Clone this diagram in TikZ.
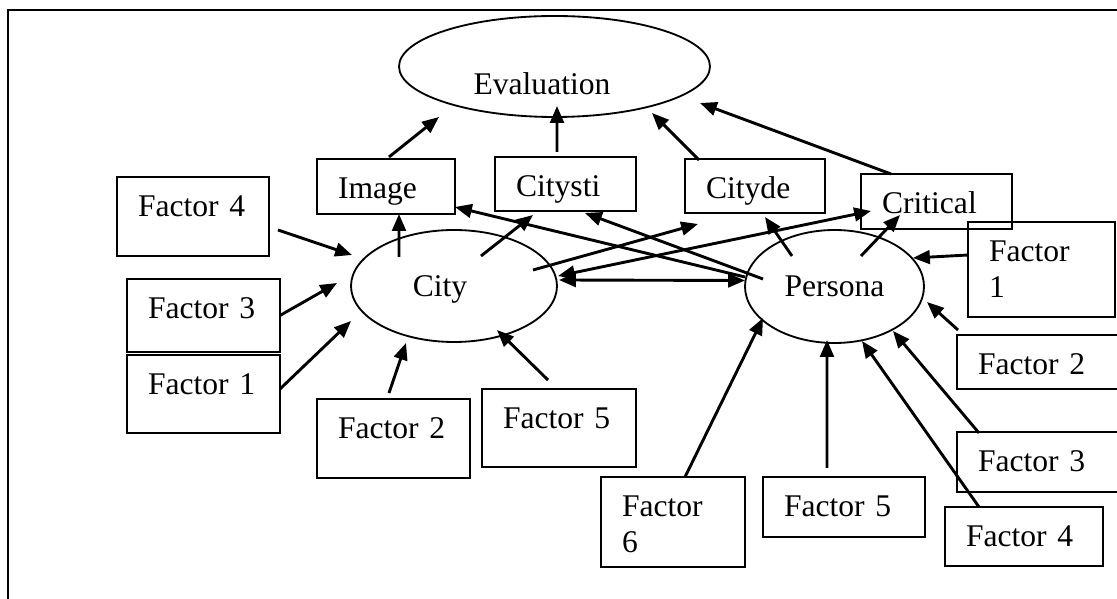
\documentclass[tikz,border=0pt]{standalone}
\usepackage{fontspec}
\setmainfont{Liberation Serif}
\usepackage{pgf,tikz}
\usetikzlibrary{arrows.meta,shapes.geometric}

\begin{document}
\begin{tikzpicture}[x=0.38pt,y=-0.38pt,font=\fontsize{12}{13.5}\selectfont,
  >={Triangle[length=6.4pt,width=5.2pt]},
  fbox/.style 2 args={draw,line width=0.76pt,anchor=north west,outer sep=0pt,
    inner xsep=8pt,inner ysep=0pt,align=left,text height=15.2pt,
    text width=#1,text depth=#2},
  oval/.style={draw,ellipse,line width=0.7pt,inner sep=0pt,outer sep=0pt},
  link/.style={line width=1.1pt}]
\useasboundingbox (0,0) rectangle (1117,599);
\draw [line width=0.76pt] (8,610) -- (8,10) -- (1125,10);
% latent variables
\node [oval,minimum width=118.18pt,minimum height=38.38pt,
  label={[xshift=-4.75pt,yshift=-6.7pt]center:Evaluation}] (eval) at (554.5,66.5) {};
\node [oval,minimum width=78.28pt,minimum height=42.56pt,
  label={[xshift=-5.32pt,yshift=-1.5pt]center:City}] (city) at (454,286) {};
\node [oval,minimum width=68.02pt,minimum height=42.94pt] (persona) at (834.5,286.5) {Persona};
% indicators
\node [fbox={36.44pt}{5.7pt}] (img) at (317,159) {Image};
\node [fbox={37.58pt}{5.32pt}] (sti) at (495,157) {Citysti};
\node [fbox={37.2pt}{5.32pt}] (cde) at (685,159) {Cityde};
\node [fbox={41.38pt}{5.7pt}] (crit) at (861,174) {Critical};
% city factors
\node [fbox={41.76pt}{14.82pt}] (f4l) at (117,177) {Factor 4};
\node [fbox={42.14pt}{12.54pt}] (f3l) at (127,279) {Factor 3};
\node [fbox={42.14pt}{14.44pt}] (f1l) at (127,355) {Factor 1};
\node [fbox={42.14pt}{14.82pt}] (f2l) at (317,399) {Factor 2};
\node [fbox={42.52pt}{14.44pt}] (f5l) at (482,389) {Factor 5};
% persona factors
\node [fbox={39.86pt}{20.9pt}] (f1r) at (968,222) {Factor\\1};
\node [fbox={60pt}{5.32pt}] (f2r) at (957,335) {Factor 2};
\node [fbox={60pt}{7.6pt}] (f3r) at (957,432) {Factor 3};
\node [fbox={44.04pt}{7.22pt}] (f4r) at (945,507) {Factor 4};
\node [fbox={45.56pt}{7.6pt}] (f5r) at (763,477) {Factor 5};
\node [fbox={38.72pt}{19pt}] (f6) at (601,477) {Factor\\6};
% arrows into City
\draw [link,->] ([shift={(9,13.5)}]f4l.east) -- ([shift={(-102,-31)}]city.center);
\draw [link,->] (f3l.east) -- ([shift={(-117,-3)}]city.center);
\draw [link,->] ([shift={(0,-5)}]f1l.east) -- ([shift={(-103,35)}]city.center);
\draw [link,->] ([shift={(-4.5,-6)}]f2l.north) -- ([shift={(-48,57)}]city.center);
\draw [link,->] ([shift={(-11,-9)}]f5l.north) -- ([shift={(43,44)}]city.center);
% City and Persona to indicators
\draw [link,->] ([shift={(-55,-29)}]city.center) -- ([shift={(13,0)}]img.south);
\draw [link,->] ([shift={(27,-30)}]city.center) -- ([shift={(-32.5,4)}]sti.south);
\draw [link,->] ([shift={(79,-16)}]city.center) -- ([shift={(-57,11)}]cde.south);
\draw [link,<->] ([shift={(1,-10)}]city.east) -- ([shift={(-65.5,9.5)}]crit.center);
\draw [link,<->] ([shift={(2,-6)}]city.east) -- ([shift={(0,-6)}]persona.west);
\draw [link,->] ([shift={(-89.5,-9.5)}]persona.center) -- ([shift={(0,-7)}]img.south east);
\draw [link,->] ([shift={(-71.5,-7.5)}]persona.center) -- ([shift={(19.5,2)}]sti.south);
\draw [link,->] ([shift={(-42.5,-30.5)}]persona.center) -- ([shift={(10,4)}]cde.south);
\draw [link,->] ([shift={(26.5,-30.5)}]persona.center) -- ([shift={(-36.5,-14)}]crit.south);
% indicators to Evaluation
\draw [link,->] ([shift={(3,-2)}]img.north) -- ([shift={(-115.5,50.5)}]eval.center);
\draw [link,->] ([shift={(-8.5,-5)}]sti.north) -- ([shift={(2.5,39.5)}]eval.center);
\draw [link,->] ([shift={(-56,1)}]cde.north) -- ([shift={(97.5,46.5)}]eval.center);
\draw [link,->] ([shift={(-45.5,0)}]crit.north) -- ([shift={(145.5,36.5)}]eval.center);
% arrows into Persona
\draw [link,->] ([shift={(0,-14.5)}]f1r.west) -- ([shift={(78.5,-28.5)}]persona.center);
\draw [link,->] ([shift={(1,-5)}]f2r.north west) -- ([shift={(92.5,15.5)}]persona.center);
\draw [link,->] ([shift={(22,1)}]f3r.north west) -- ([shift={(58.5,44.5)}]persona.center);
\draw [link,->] ([shift={(34,0)}]f4r.north west) -- ([shift={(27.5,54.5)}]persona.center);
\draw [link,->] ([shift={(-17,-9)}]f5r.north) -- ([shift={(-7.5,53.5)}]persona.center);
\draw [link,->] ([shift={(12,0)}]f6.north) -- ([shift={(-71.5,31.5)}]persona.center);
\end{tikzpicture}
\end{document}
